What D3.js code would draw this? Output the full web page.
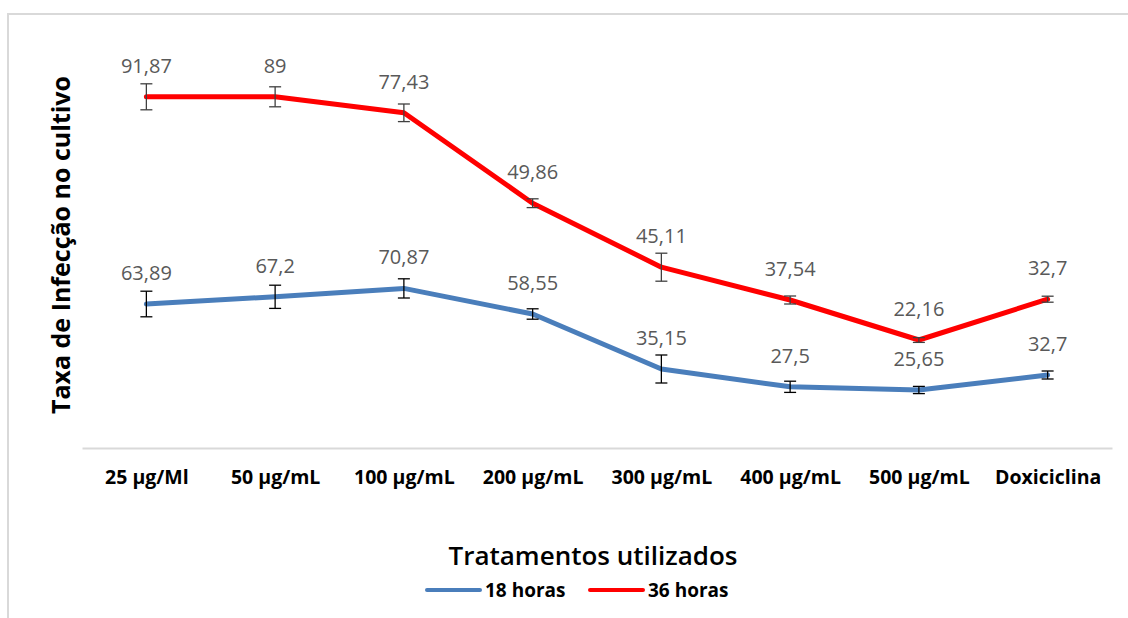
<!DOCTYPE html>
<html>
<head>
<meta charset="utf-8">
<script src="https://cdn.jsdelivr.net/npm/d3@7"></script>
<style>
  body { margin: 0; background: #fff; }
  text { font-family: "Open Sans", sans-serif; }
</style>
</head>
<body>
<div id="container"></div>
<script>
/* CONSTANTS AND GLOBALS */
const width = 1128;
const height = 618;

/* DATA */
const categories = ["25 µg/Ml", "50 µg/mL", "100 µg/mL", "200 µg/mL", "300 µg/mL", "400 µg/mL", "500 µg/mL", "Doxiciclina"];
// plotted positions
const values18 = [36, 37.8, 39.9, 33.5, 19.75, 15.3, 14.5, 18.25];
const values36 = [87.8, 87.8, 83.8, 61.2, 45.2, 37, 27, 37.2];
const err18 = [3.2, 2.9, 2.4, 1.3, 3.5, 1.4, 0.9, 1];
const err36 = [3.25, 2.5, 2.2, 1.1, 3.5, 1, 0.6, 0.75];
// data labels as printed on the chart
const labels18 = ["63,89", "67,2", "70,87", "58,55", "35,15", "27,5", "25,65", "32,7"];
const labels36 = ["91,87", "89", "77,43", "49,86", "45,11", "37,54", "22,16", "32,7"];

const series = [
  { name: "18 horas", values: values18, err: err18, labels: labels18, color: "#4a7ebb", errColor: "#000" },
  { name: "36 horas", values: values36, err: err36, labels: labels36, color: "#ff0000", errColor: "#404040" }
];

const svg = d3.select("#container").append("svg")
  .attr("width", width)
  .attr("height", height);

// chart border
svg.append("rect")
  .attr("x", 8).attr("y", 14)
  .attr("width", 1140).attr("height", 620)
  .attr("fill", "none")
  .attr("stroke", "#d9d9d9")
  .attr("stroke-width", 2);

/* SCALES */
const xScale = d3.scalePoint()
  .domain(categories)
  .range([82, 1112])
  .padding(0.5);

const yScale = d3.scaleLinear()
  .domain([0, 100])
  .range([448, 48]);

/* AXIS */
const xAxis = d3.axisBottom(xScale).tickSize(0).tickPadding(22);
const gx = svg.append("g")
  .attr("transform", `translate(0, ${yScale(0)})`)
  .call(xAxis);
gx.select(".domain").attr("stroke", "#d9d9d9").attr("stroke-width", 2);
gx.selectAll("text")
  .attr("fill", "#000")
  .style("font-family", "'Open Sans', sans-serif")
  .style("font-size", "19.5px")
  .style("font-weight", "bold");

/* LINES */
const line = d3.line()
  .x((d, i) => xScale(categories[i]))
  .y(d => yScale(d));

series.forEach(s => {
  svg.append("path")
    .datum(s.values)
    .attr("d", line)
    .attr("fill", "none")
    .attr("stroke", s.color)
    .attr("stroke-width", 5)
    .attr("stroke-linejoin", "round")
    .attr("stroke-linecap", "round");

  const eb = svg.append("g");
  s.values.forEach((v, i) => {
    const x = xScale(categories[i]);
    const y0 = yScale(v - s.err[i]);
    const y1 = yScale(v + s.err[i]);
    eb.append("line").attr("x1", x).attr("x2", x).attr("y1", y0).attr("y2", y1);
    eb.append("line").attr("x1", x - 6).attr("x2", x + 6).attr("y1", y0).attr("y2", y0);
    eb.append("line").attr("x1", x - 6).attr("x2", x + 6).attr("y1", y1).attr("y2", y1);
  });
  eb.selectAll("line").attr("stroke", s.errColor).attr("stroke-width", 1.3);

  svg.append("g").selectAll("text")
    .data(s.values)
    .join("text")
    .attr("x", (d, i) => xScale(categories[i]))
    .attr("y", d => yScale(d) - 24)
    .attr("text-anchor", "middle")
    .attr("fill", "#595959")
    .style("font-size", "20px")
    .text((d, i) => s.labels[i]);
});

/* TITLES */
svg.append("text")
  .attr("transform", "translate(70, 245) rotate(-90)")
  .attr("text-anchor", "middle")
  .style("font-size", "25px")
  .style("font-weight", "bold")
  .text("Taxa de Infecção no cultivo");

svg.append("text")
  .attr("x", 593)
  .attr("y", 565)
  .attr("text-anchor", "middle")
  .style("font-size", "26px")
  .style("font-weight", "600")
  .text("Tratamentos utilizados");

/* LEGEND */
const legendX = [427, 590];
series.forEach((s, i) => {
  const g = svg.append("g").attr("transform", `translate(${legendX[i]}, 590)`);
  g.append("line")
    .attr("x1", 0).attr("x2", 53)
    .attr("stroke", s.color)
    .attr("stroke-width", 4)
    .attr("stroke-linecap", "round");
  g.append("text")
    .attr("x", 58)
    .attr("y", 7)
    .style("font-size", "19px")
    .style("font-weight", "bold")
    .text(s.name);
});
</script>
</body>
</html>
